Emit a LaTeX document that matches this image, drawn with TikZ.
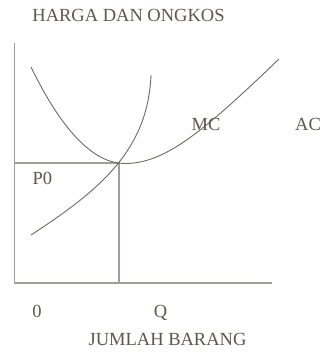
\documentclass[tikz,border=0pt]{standalone}
\usepackage{fontspec}
\setmainfont{Liberation Serif}
\definecolor{txt}{HTML}{5E5651}
\definecolor{axisc}{HTML}{A29D9A}
\definecolor{curvec}{HTML}{6F6965}
\begin{document}
\begin{tikzpicture}[x=1bp,y=-1bp,
  lbl/.style={text=txt,font=\fontsize{18.5bp}{20bp}\selectfont,inner sep=0pt,anchor=base},
  axisline/.style={draw=axisc,line width=1.3bp},
  curveline/.style={draw=curvec,line width=0.9bp}]
\useasboundingbox (0,0) rectangle (323,352);
% axes
\coordinate (ytop) at (14.5,43);
\coordinate (orig) at (14.5,283);
\coordinate (xend) at (272,283);
\coordinate (p0) at (14.5,163);
\coordinate (eq) at (119,163);
\coordinate (qb) at (119,283);
\draw[axisline] (ytop) -- (orig) -- (xend);
\draw[axisline] (p0) -- (eq) -- (qb);
% U-shaped curve
\coordinate (ua) at (31,67);
\coordinate (umin) at (125,163.5);
\coordinate (ub) at (279,59);
\draw[curveline] (ua) .. controls (62.3,131.3) and (93.7,163.5) .. (umin)
  .. controls (165,163.5) and (203,132) .. (ub);
% rising curve
\coordinate (ma) at (31,235);
\coordinate (mb) at (151,75);
\draw[curveline] (ma) .. controls (100,190) and (148,150) .. (mb);
% labels
\node[lbl] (title) at (128.5,21.7) {HARGA DAN ONGKOS};
\node[lbl] (P0) at (42.4,184) {P0};
\node[lbl] (MC) at (206,130) {MC};
\node[lbl] (AC) at (308,130) {AC};
\node[lbl] (zero) at (37,317.7) {0};
\node[lbl] (Q) at (160.5,317.7) {Q};
\node[lbl] (xlab) at (167.5,345) {JUMLAH BARANG};
\end{tikzpicture}
\end{document}
